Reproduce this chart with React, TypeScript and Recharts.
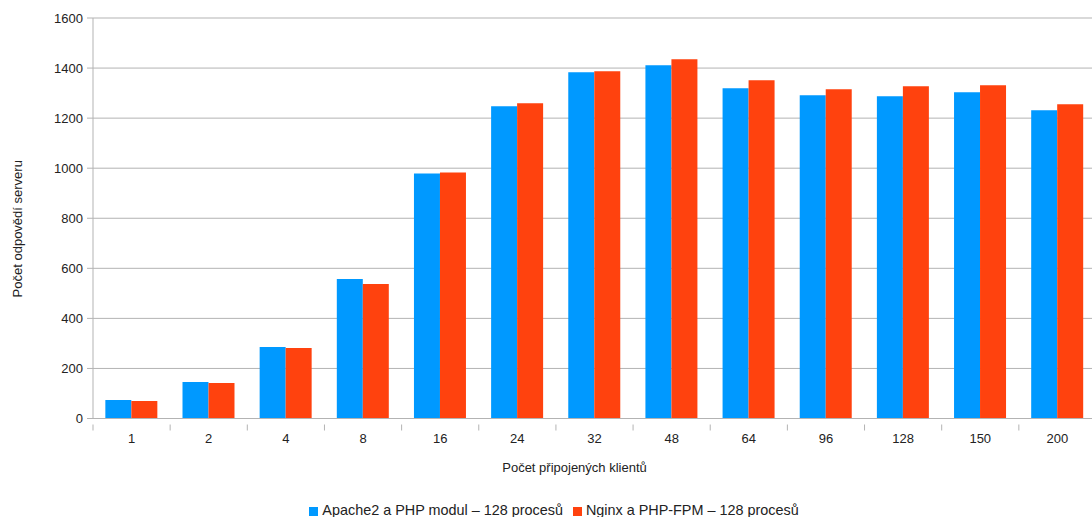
import React from 'react';
import { BarChart, Bar, XAxis, YAxis, CartesianGrid, Legend } from 'recharts';

const categories = ['1', '2', '4', '8', '16', '24', '32', '48', '64', '96', '128', '150', '200'];
const apacheValues = [74, 146, 286, 557, 979, 1247, 1383, 1411, 1319, 1291, 1287, 1303, 1231];
const nginxValues = [70, 142, 282, 537, 983, 1259, 1387, 1435, 1351, 1315, 1327, 1331, 1255];
const yTicks = [0, 200, 400, 600, 800, 1000, 1200, 1400, 1600];
const seriesNames = ['Apache2 a PHP modul – 128 procesů', 'Nginx a PHP-FPM – 128 procesů'];
const xTitle = 'Počet připojených klientů';
const yTitle = 'Počet odpovědí serveru';

const data = categories.map((c, i) => ({ name: c, apache: apacheValues[i], nginx: nginxValues[i] }));

const FONT = '"Liberation Sans", Arial, sans-serif';
const AXIS = '#b3b3b3';
const TEXT = '#222';

const XTick = (props: any) => {
  const { x, y, payload } = props;
  const half = payload && typeof payload.offset === 'number' && payload.offset > 0 ? payload.offset : 38.6;
  return (
    <g>
      <line x1={x - half} x2={x - half} y1={y - 9} y2={y - 3} stroke={AXIS} strokeWidth={1} />
      <text x={x} y={y} dy="0.71em" textAnchor="middle" fill={TEXT} fontSize={13} fontFamily={FONT}>
        {payload.value}
      </text>
    </g>
  );
};

const XTitle = (props: any) => {
  const vb = props.viewBox || {};
  const cx = vb.x + vb.width / 2 - 20;
  return (
    <text x={cx} y={vb.y + 53} textAnchor="middle" fill={TEXT} fontSize={13} fontFamily={FONT}>
      {xTitle}
    </text>
  );
};

const YTitle = (props: any) => {
  const vb = props.viewBox || {};
  const cx = 22;
  const cy = vb.y + vb.height / 2 + 10.5;
  return (
    <text x={cx} y={cy} transform={`rotate(-90 ${cx} ${cy})`} textAnchor="middle" fill={TEXT} fontSize={13} fontFamily={FONT}>
      {yTitle}
    </text>
  );
};

export default function App() {
  return (
    <div style={{ position: 'absolute', left: 0, top: 0, width: 1092, height: 517, overflow: 'hidden', background: '#fff' }}>
      <BarChart
        width={1100}
        height={517}
        data={data}
        margin={{ top: 18, right: 4, left: 0, bottom: 42.5 }}
        barCategoryGap="16%"
        barGap={0}
      >
        <CartesianGrid vertical={false} stroke={AXIS} strokeWidth={1} />
        <XAxis
          dataKey="name"
          height={56}
          stroke={AXIS}
          tickLine={false}
          tickSize={6}
          tickMargin={9}
          tick={<XTick />}
          label={<XTitle />}
        />
        <YAxis
          width={93}
          domain={[0, 1600]}
          ticks={yTicks}
          stroke={AXIS}
          tickSize={6}
          tickMargin={4}
          tick={{ fill: TEXT, fontSize: 13, fontFamily: FONT }}
          label={<YTitle />}
        />
        <Legend
          layout="horizontal"
          align="center"
          verticalAlign="middle"
          iconType="square"
          iconSize={9}
          wrapperStyle={{ top: 502, left: 11, fontFamily: FONT, fontSize: 14.4, color: TEXT }}
          formatter={(value: string) => <span style={{ color: TEXT }}>{value}</span>}
        />
        <Bar dataKey="apache" name={seriesNames[0]} fill="#0099ff" isAnimationActive={false} />
        <Bar dataKey="nginx" name={seriesNames[1]} fill="#ff420e" isAnimationActive={false} />
      </BarChart>
    </div>
  );
}
